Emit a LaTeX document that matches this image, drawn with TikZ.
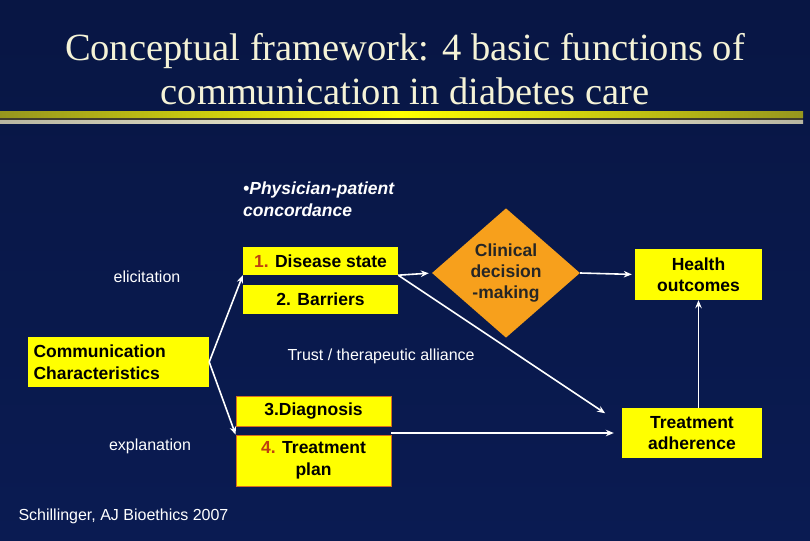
\documentclass[tikz,border=0pt]{standalone}
\usepackage{fontspec}
\setmainfont{Liberation Sans}
\newfontfamily\titlefont{Liberation Serif}
\usetikzlibrary{positioning, arrows.meta, shapes.geometric}
\definecolor{navy}{RGB}{10, 27, 82}
\definecolor{navytop}{RGB}{8, 22, 68}
\definecolor{boxyellow}{RGB}{255, 255, 0}
\definecolor{diamondorange}{RGB}{247, 160, 28}
\definecolor{numred}{RGB}{190, 64, 16}
\definecolor{edgeorange}{RGB}{215, 110, 30}
\definecolor{titlecream}{RGB}{245, 243, 215}
\definecolor{barolive}{RGB}{150, 150, 30}

\begin{document}
\begin{tikzpicture}[x=1pt, y=-1pt,
    every node/.style={font=\fontsize{16}{21}\selectfont},
    box/.style={fill=boxyellow, text=black, inner sep=0pt, align=center,
                font=\bfseries\fontsize{17.5}{21.5}\selectfont},
    plain/.style={text=white, font=\fontsize{16}{19}\selectfont},
    arr/.style={-{Stealth[length=8pt, width=6.5pt]}, white, line width=1.6pt}]
  \useasboundingbox (0,0) rectangle (810,540);
  \shade[top color=navytop, bottom color=navy] (0,0) rectangle (810,540);

  % title and rule
  \node[text=titlecream, align=center, font=\titlefont\fontsize{38.5}{44}\selectfont]
        (title) at (405,69.5) {Conceptual framework: 4 basic functions of\\communication in diabetes care};
  \shade[left color=barolive, right color=barolive, middle color=yellow] (0,112) rectangle (803,118);
  \fill[black!70!olive] (0,118) rectangle (803,121);
  \shade[left color=black!25!titlecream, right color=black!25!titlecream, middle color=titlecream] (0,121) rectangle (803,124);

  \node[text=white, align=left, anchor=west, inner sep=0pt, font=\bfseries\itshape\fontsize{17.5}{22}\selectfont]
        (concord) at (243,199) {\textbullet Physician-patient\\concordance};

  \node[box, minimum width=155pt, minimum height=28pt] (disease) at (320.5,261) {\textcolor{numred}{1.} Disease state};
  \node[box, minimum width=155pt, minimum height=29pt] (barriers) at (320.5,299.5) {2. Barriers};
  \node[box, minimum width=181pt, minimum height=50pt, align=left, text width=170pt]
        (comm) at (118.5,362) {Communication\\Characteristics};
  \node[box, draw=edgeorange, line width=0.8pt, minimum width=155pt, minimum height=30pt]
        (diagnosis) at (313.5,411) {3.Diagnosis};
  \node[box, draw=edgeorange, line width=0.8pt, minimum width=155pt, minimum height=51pt]
        (plan) at (313.5,460.5) {\textcolor{numred}{4.} Treatment\\plan};
  \node[diamond, fill=diamondorange, inner sep=0pt, minimum width=148pt, minimum height=126pt,
        align=center, text=black!85, font=\bfseries\fontsize{17.5}{21}\selectfont]
        (decision) at (506,273) {Clinical\\decision\\-making};
  \node[box, minimum width=127pt, minimum height=51pt] (health) at (698.5,274.5) {Health\\outcomes};
  \node[box, minimum width=140pt, minimum height=50pt] (adherence) at (692,433) {Treatment\\adherence};

  \node[plain] (elicit) at (147,277) {elicitation};
  \node[plain] (explain) at (150,446) {explanation};
  \node[plain, anchor=west] (trust) at (284,356) {Trust / therapeutic alliance};
  \node[plain, anchor=west] (cite) at (15,516) {Schillinger, AJ Bioethics 2007};

  \draw[arr] (comm.east) -- (disease.south west);
  \draw[arr] (comm.east) -- (plan.north west);
  \draw[arr, shorten >=3pt] (disease.south east) -- (decision.west);
  \draw[arr, shorten >=20pt] (disease.south east) -- (adherence.173);
  \draw[arr, shorten >=3pt] (decision.east) -- (health.west);
  \draw[arr] (diagnosis.south east |- adherence.west) -- ([xshift=-8pt]adherence.west);
  \draw[arr] (adherence.north -| health.south) -- (health.south);
\end{tikzpicture}
\end{document}
